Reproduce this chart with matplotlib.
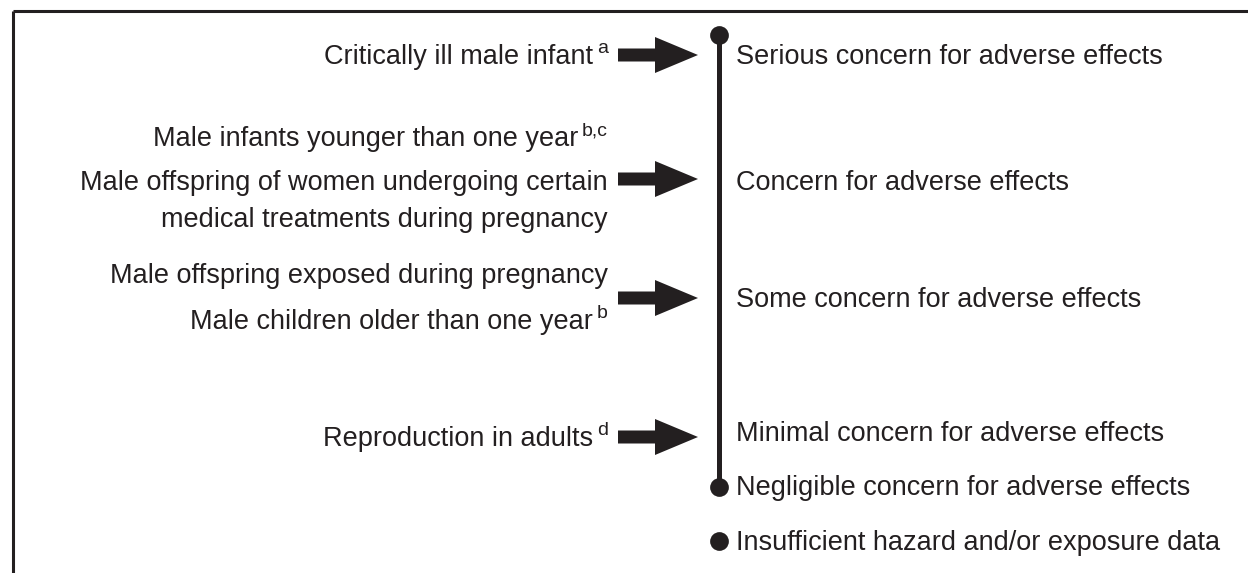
import matplotlib

matplotlib.use("Agg")
import matplotlib.pyplot as plt
from matplotlib.patches import FancyArrow

INK = "#231f20"
FONT = "Liberation Sans"

# left column: (text, superscript) per line, grouped by arrow
left_lines = [
    ("Critically ill male infant", "a"),
    ("Male infants younger than one year", "b,c"),
    ("Male offspring of women undergoing certain", ""),
    ("medical treatments during pregnancy", ""),
    ("Male offspring exposed during pregnancy", ""),
    ("Male children older than one year", "b"),
    ("Reproduction in adults", "d"),
]
left_y = [55, 137, 181, 218, 274, 320, 437]

# concern levels on the scale
levels = [
    "Serious concern for adverse effects",
    "Concern for adverse effects",
    "Some concern for adverse effects",
    "Minimal concern for adverse effects",
    "Negligible concern for adverse effects",
    "Insufficient hazard and/or exposure data",
]
level_y = [55, 181, 298, 432, 486, 541]

arrow_y = [55, 179, 298, 437]

W, H = 1248, 573
fig = plt.figure(figsize=(W / 100, H / 100), dpi=100)
ax = fig.add_axes([0, 0, 1, 1])
ax.set_xlim(0, W)
ax.set_ylim(H, 0)
ax.axis("off")

FS = 19.5
SUP_FS = 14

# frame (cut off at right and bottom)
ax.plot([12.5, W], [10.5, 10.5], color=INK, lw=2.2, solid_capstyle="butt")
ax.plot([12.5, 12.5], [10.5, H], color=INK, lw=2.2, solid_capstyle="butt")

# scale line with end dots
scale_x = 719
ax.plot([scale_x, scale_x], [level_y[0] - 20, level_y[4] + 1], color=INK, lw=3.6,
        solid_capstyle="butt")
ax.plot([scale_x] * 3, [level_y[0] - 20, level_y[4] + 1, level_y[5]], "o",
        color=INK, ms=13.5, mew=0)

for txt, y in zip(levels, level_y):
    ax.text(736, y + 9, txt, fontsize=FS, family=FONT, color=INK,
            ha="left", va="baseline")

fig.canvas.draw()
renderer = fig.canvas.get_renderer()
right_edge = 608
for (txt, sup), y in zip(left_lines, left_y):
    x_end = right_edge
    if sup:
        s = ax.text(right_edge, y - 2, sup, fontsize=SUP_FS, family=FONT, color=INK,
                    ha="right", va="baseline")
        sw = s.get_window_extent(renderer).width
        x_end = right_edge - sw - 4
    ax.text(x_end, y + 9, txt, fontsize=FS, family=FONT, color=INK,
            ha="right", va="baseline")

for y in arrow_y:
    ax.add_patch(FancyArrow(618, y, 80, 0, width=13, head_width=36, head_length=43,
                            length_includes_head=True, color=INK, lw=0))

fig.savefig("out.png", dpi=100)
